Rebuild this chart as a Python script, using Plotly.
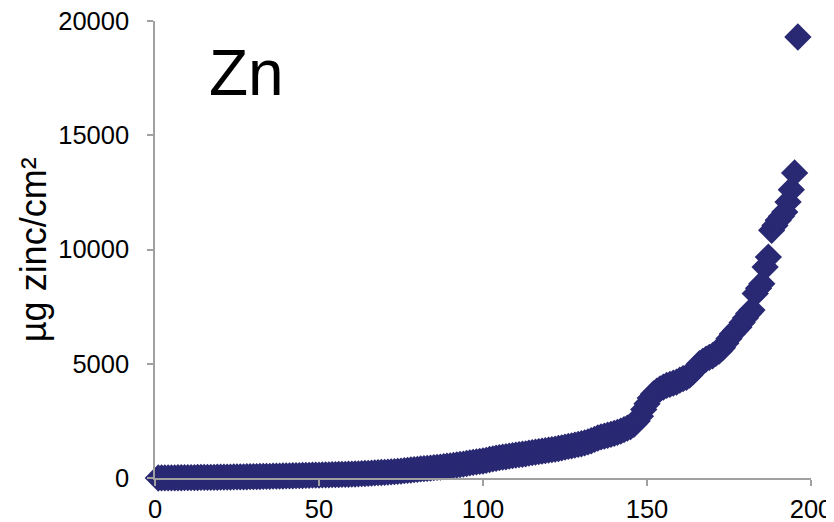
import plotly.graph_objects as go

sample_rank = list(range(1, 197))

zinc_ug_cm2 = [
    0, 2, 3, 5, 6, 8, 10, 11, 13, 15,
    17, 19, 21, 23, 25, 27, 29, 31, 33, 35,
    37, 40, 42, 45, 47, 50, 52, 55, 57, 60,
    63, 66, 69, 72, 75, 78, 81, 84, 87, 90,
    94, 98, 102, 106, 110, 114, 118, 122, 126, 130,
    133, 137, 141, 145, 149, 153, 157, 161, 165, 170,
    176, 182, 190, 198, 205, 213, 222, 232, 241, 250,
    260, 270, 280, 290, 305, 320, 335, 350, 365, 380,
    395, 410, 420, 435, 450, 465, 480, 500, 515, 530,
    550, 570, 590, 610, 635, 660, 685, 705, 725, 745,
    775, 810, 840, 865, 890, 910, 930, 955, 980, 1000,
    1020, 1040, 1060, 1090, 1110, 1130, 1150, 1175, 1200, 1220,
    1240, 1260, 1290, 1320, 1350, 1380, 1410, 1440, 1470, 1500,
    1540, 1580, 1630, 1690, 1750, 1800, 1830, 1870, 1910, 1950,
    2000, 2050, 2120, 2180, 2250, 2350, 2500, 2700, 3000, 3250,
    3500, 3680, 3800, 3900, 3980, 4050, 4100, 4150, 4200, 4280,
    4350, 4400, 4500, 4650, 4820, 5000, 5100, 5200, 5280, 5350,
    5450, 5550, 5700, 5900, 6100, 6300, 6450, 6600, 6800, 7000,
    7200, 7350, 8070, 8300, 8500, 9230, 9670, 10840, 11050, 11280,
    11450, 11640, 12080, 12620, 13350, 19300,
]

x_ticks = [0, 50, 100, 150, 200]
x_tick_labels = ["0", "50", "100", "150", "200"]
y_ticks = [0, 5000, 10000, 15000, 20000]
y_tick_labels = ["0", "5000", "10000", "15000", "20000"]

marker_color = "#292873"
axis_color = "#A0A0A0"
font_family = "Liberation Sans, Arial, sans-serif"

fig = go.Figure()
fig.add_trace(go.Scatter(
    x=sample_rank,
    y=zinc_ug_cm2,
    mode="markers",
    marker=dict(symbol="diamond", size=21, color=marker_color, line=dict(width=0)),
    showlegend=False,
    cliponaxis=False,
))

fig.add_annotation(
    x=15.7, y=17730, xref="x", yref="y",
    text="Zn", showarrow=False,
    xanchor="left", yanchor="middle",
    font=dict(family=font_family, size=64, color="black"),
)

fig.add_annotation(
    x=-0.185, y=0.5, xref="paper", yref="paper",
    text="µg zinc/cm²", showarrow=False, textangle=-90,
    xanchor="center", yanchor="middle",
    font=dict(family=font_family, size=36, color="black"),
)

tick_font = dict(size=25.5, color="black", family=font_family)

# page body has an 8px margin, so the figure is sized to fit the 834x522 window
fig.update_layout(
    width=826, height=514,
    margin=dict(l=147, r=23, t=13, b=44),
    paper_bgcolor="white", plot_bgcolor="white",
    font=dict(family=font_family, color="black"),
    xaxis=dict(
        range=[0, 200], tickvals=x_ticks, ticktext=x_tick_labels,
        showgrid=False, zeroline=False, automargin=False,
        showline=True, linecolor=axis_color, linewidth=1.5,
        ticks="outside", ticklen=6, tickcolor=axis_color, tickwidth=1.5,
        tickfont=tick_font, ticklabelstandoff=2, ticklabeloverflow="allow",
    ),
    yaxis=dict(
        range=[0, 20000], tickvals=y_ticks, ticktext=y_tick_labels,
        showgrid=False, zeroline=False, automargin=False,
        showline=True, linecolor=axis_color, linewidth=1.5,
        ticks="outside", ticklen=6, tickcolor=axis_color, tickwidth=1.5,
        tickfont=tick_font, ticklabelstandoff=13, ticklabeloverflow="allow",
    ),
)

fig.write_html("out.html")
